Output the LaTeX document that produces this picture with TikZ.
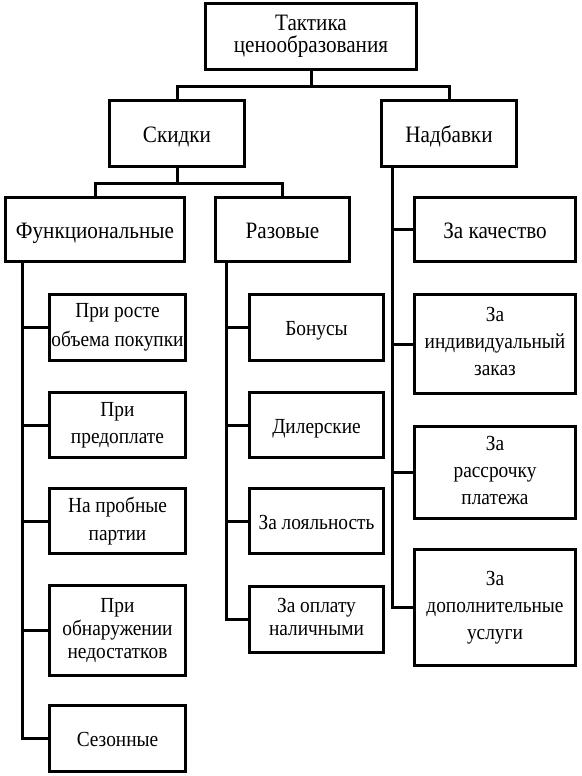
\documentclass[tikz,border=0pt]{standalone}
\usepackage{fontspec}
\setmainfont{Liberation Serif}[FakeStretch=0.9]
\begin{document}
\begin{tikzpicture}[x=1pt,y=-1pt,
  box/.style={draw, line width=3pt, align=center, inner sep=0pt,
    execute at begin node={\rule{0pt}{1.0em}},
    execute at end node={\rule[-0.216em]{0pt}{0pt}}},
  big/.style={font=\fontsize{23.5}{22}\selectfont,
    execute at begin node={\rule{0pt}{1.2em}}},
  mid/.style={font=\fontsize{23.5}{24}\selectfont},
  small/.style={font=\fontsize{21.5}{27}\selectfont},
  link/.style={line width=3pt}]
\useasboundingbox[fill=white] (0,0) rectangle (581,776);
% level 0
\node[box,big,minimum width=211pt,minimum height=66pt] (top) at (311,36.5) {Тактика\\ценообразования};
% level 1
\node[box,mid,minimum width=135pt,minimum height=66pt] (skidki) at (177,133.5) {Скидки};
\node[box,mid,minimum width=135pt,minimum height=66pt] (nadb) at (449,133.5) {Надбавки};
% level 2
\node[box,mid,minimum width=179pt,minimum height=64pt] (func) at (95,229.5) {Функциональные};
\node[box,mid,minimum width=134pt,minimum height=64pt] (razov) at (282.5,229.5) {Разовые};
\node[box,mid,minimum width=161pt,minimum height=64pt] (kach) at (495,229.5) {За качество};
% left children
\node[box,small,minimum width=136pt,minimum height=66pt,font=\fontsize{21.5}{29}\selectfont] (c1) at (117.5,327.5) {При росте\\объема покупки};
\node[box,small,minimum width=136pt,minimum height=65pt] (c2) at (117.5,425) {При\\предоплате};
\node[box,small,minimum width=136pt,minimum height=65pt,font=\fontsize{21.5}{28}\selectfont] (c3) at (117.5,521) {На пробные\\партии};
\node[box,small,minimum width=136pt,minimum height=90pt,font=\fontsize{21.5}{23}\selectfont] (c4) at (117.5,630.5) {При\\обнаружении\\недостатков};
\node[box,small,minimum width=136pt,minimum height=66pt] (c5) at (117.5,738.5) {Сезонные};
% middle children
\node[box,small,minimum width=134pt,minimum height=66pt] (m1) at (316.5,327.5) {Бонусы};
\node[box,small,minimum width=134pt,minimum height=65pt] (m2) at (316.5,425) {Дилерские};
\node[box,small,minimum width=134pt,minimum height=65pt] (m3) at (316.5,521) {За лояльность};
\node[box,small,minimum width=134pt,minimum height=66pt,font=\fontsize{21.5}{23}\selectfont] (m4) at (316.5,619.5) {За оплату\\наличными};
% right children
\node[box,small,minimum width=161pt,minimum height=99pt] (r1) at (495,344) {За\\индивидуальный\\заказ};
\node[box,small,minimum width=161pt,minimum height=92pt] (r2) at (495,472.5) {За\\рассрочку\\платежа};
\node[box,small,minimum width=161pt,minimum height=116pt] (r3) at (495,607.5) {За\\дополнительные\\услуги};
% connectors
\coordinate (j1) at (311,86);
\coordinate (j2) at (177,183);
\draw[link] (top.south) -- (j1);
\draw[link] (skidki.north) |- (j1) -| (nadb.north);
\draw[link] (skidki.south) -- (j2);
\draw[link] (func.north) |- (j2) -| (razov.north);
% trunks
\coordinate (tf) at ([xshift=18pt]func.south west);
\coordinate (tr) at ([xshift=12pt]razov.south west);
\coordinate (tn) at ([xshift=12pt]nadb.south west);
\draw[link] (tf) |- (c5.west);
\foreach \c in {c1,c2,c3,c4} \draw[link] (tf) |- (\c.west);
\draw[link] (tr) |- (m4.west);
\foreach \c in {m1,m2,m3} \draw[link] (tr) |- (\c.west);
\draw[link] (tn) |- (r3.west);
\foreach \c in {kach,r1,r2} \draw[link] (tn) |- (\c.west);
\end{tikzpicture}
\end{document}
